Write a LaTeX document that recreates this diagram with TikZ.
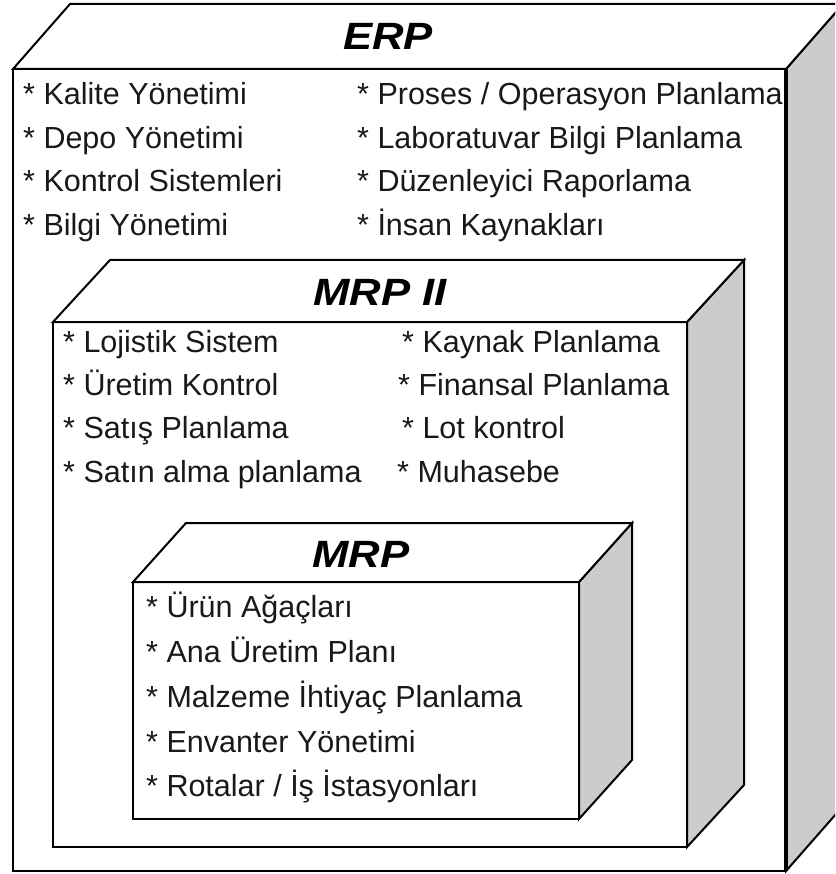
\documentclass[tikz,border=0pt]{standalone}
\usepackage{fontspec}
\setmainfont{Liberation Sans}
\tikzset{
  frontface/.style={draw=black, line width=2pt, fill=white, line join=miter},
  topface/.style={draw=black, line width=2pt, fill=white, line join=miter},
  sideface/.style={draw=black, line width=2pt, fill=black!20, line join=miter},
  item/.style={anchor=base west, inner sep=0pt, text=black!90,
    font=\fontsize{30.5}{36}\selectfont},
  boxtitle/.style={anchor=base west, inner sep=0pt, text=black,
    font=\fontsize{38}{40}\selectfont\bfseries\itshape, xscale=1.15},
}
% #1 L, #2 T, #3 R, #4 B, #5 dx, #6 dy
\newcommand\cubebox[6]{%
  \draw[sideface] (#3,#2) -- (#3+#5,#2-#6) -- (#3+#5,#4-#6) -- (#3,#4) -- cycle;
  \draw[frontface] (#1,#2) rectangle (#3,#4);
  \draw[topface] (#1,#2) -- (#1+#5,#2-#6) -- (#3+#5,#2-#6) -- (#3,#2) -- cycle;
}
\begin{document}
\begin{tikzpicture}[x=1pt,y=-1pt]
\useasboundingbox (0,0) rectangle (835,874);
\clip (0,0) rectangle (835,874);
% ERP
\cubebox{13}{69}{786}{871}{57}{65}
\draw[line width=3.5pt] (786,69) -- (786,871);
\node[boxtitle] (erp) at (343,50) {ERP};
\node[item] (e1) at (23,105) {* Kalite Yönetimi};
\node[item] (e2) at (23,148.5) {* Depo Yönetimi};
\node[item] (e3) at (23,192) {* Kontrol Sistemleri};
\node[item] (e4) at (23,235.5) {* Bilgi Yönetimi};
\node[item] (e5) at (357,105) {* Proses / Operasyon Planlama};
\node[item] (e6) at (357,148.5) {* Laboratuvar Bilgi Planlama};
\node[item] (e7) at (357,192) {* Düzenleyici Raporlama};
\node[item] (e8) at (357,235.5) {* İnsan Kaynakları};
% MRP II
\cubebox{53}{322}{687}{847}{57}{62}
\node[boxtitle] (mrpii) at (313,305) {MRP II};
\node[item] (m1) at (63,352) {* Lojistik Sistem};
\node[item] (m2) at (63,395) {* Üretim Kontrol};
\node[item] (m3) at (63,438) {* Satış Planlama};
\node[item] (m4) at (63,482) {* Satın alma planlama};
\node[item] (m5) at (402,352) {* Kaynak Planlama};
\node[item] (m6) at (398,395) {* Finansal Planlama};
\node[item] (m7) at (402,438) {* Lot kontrol};
\node[item] (m8) at (397,482) {* Muhasebe};
% MRP
\cubebox{133}{582}{579}{819}{53}{59}
\node[boxtitle] (mrp) at (312,567) {MRP};
\node[item] (r1) at (146,617) {* Ürün Ağaçları};
\node[item] (r2) at (146,662) {* Ana Üretim Planı};
\node[item] (r3) at (146,707) {* Malzeme İhtiyaç Planlama};
\node[item] (r4) at (146,752) {* Envanter Yönetimi};
\node[item] (r5) at (146,796) {* Rotalar / İş İstasyonları};
\end{tikzpicture}
\end{document}
